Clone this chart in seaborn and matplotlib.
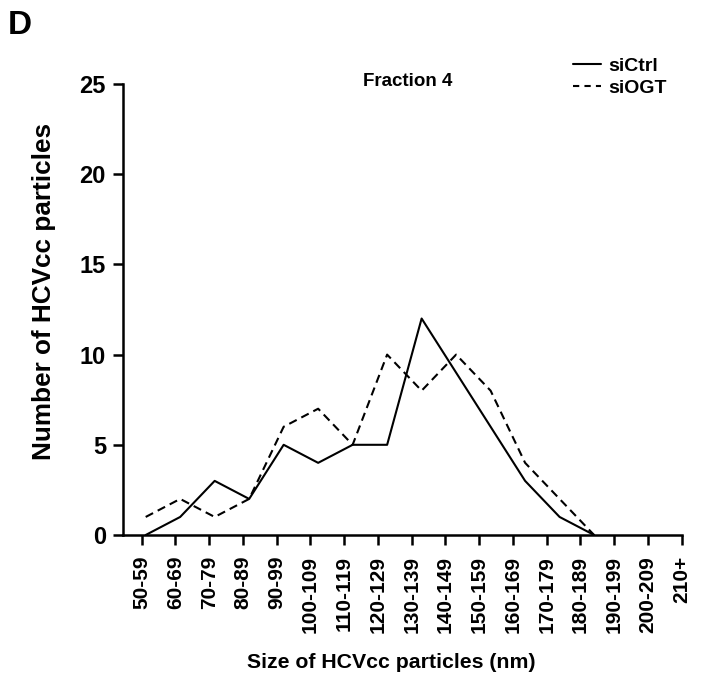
import matplotlib
matplotlib.use("Agg")
import matplotlib.pyplot as plt
import seaborn as sns
import pandas as pd
from matplotlib.lines import Line2D

# Size bins (nm) shown on the x axis
size_bins = ["50-59", "60-69", "70-79", "80-89", "90-99", "100-109", "110-119",
             "120-129", "130-139", "140-149", "150-159", "160-169", "170-179",
             "180-189", "190-199", "200-209", "210+"]

# Particle counts per bin (bins 50-59 .. 180-189)
si_ctrl = [0, 1, 3, 2, 5, 4, 5, 5, 12, 9, 6, 3, 1, 0]
si_ogt = [1, 2, 1, 2, 6, 7, 5, 10, 8, 10, 8, 4, 2, 0]

y_ticks = [0, 5, 10, 15, 20, 25]

sns.set_style("ticks")
plt.rcParams["font.family"] = ["Liberation Sans", "DejaVu Sans"]
plt.rcParams["font.weight"] = "bold"
plt.rcParams["text.color"] = "black"
plt.rcParams["axes.labelcolor"] = "black"
plt.rcParams["xtick.color"] = "black"
plt.rcParams["ytick.color"] = "black"

fig = plt.figure(figsize=(7.04, 6.79), dpi=100)
W, H = 704, 679
left, right, bottom, top = 123.3, 681.7, 535, 84
ax = fig.add_axes([left / W, 1 - bottom / H, (right - left) / W, (bottom - top) / H])

# Category axis with ticks
ax.set_xlim(-0.545, len(size_bins) - 1)
ax.set_xticks(range(len(size_bins)))
ax.set_xticklabels(size_bins, rotation=90, fontsize=15, fontweight="bold",
                   color="black")
ax.set_ylim(0, 25)
ax.set_yticks(y_ticks)
ax.set_yticklabels([str(v) for v in y_ticks], fontsize=17, fontweight="bold",
                   color="black")
ax.tick_params(axis="both", direction="out", length=7, width=1.8, color="black")
ax.tick_params(axis="x", pad=8)
ax.tick_params(axis="y", pad=5.5)
for side in ("top", "right"):
    ax.spines[side].set_visible(False)
for side in ("left", "bottom"):
    ax.spines[side].set_linewidth(1.8)
    ax.spines[side].set_color("black")

ax.set_ylabel("Number of HCVcc particles", fontsize=18.8, fontweight="bold",
              color="black")
ax.yaxis.set_label_coords(-0.1205, 0.541)
ax.set_xlabel("Size of HCVcc particles (nm)", fontsize=15.3, fontweight="bold",
              color="black")
ax.xaxis.set_label_coords(0.479, -0.262)

# Data series drawn on an overlay axis
ax2 = ax.twiny()
ax2.set_xlim(-0.649, 15.54)
ax2.set_ylim(0, 25)
ax2.axis("off")

df = pd.DataFrame({
    "bin": list(range(len(si_ctrl))) * 2,
    "count": si_ctrl + si_ogt,
    "group": ["siCtrl"] * len(si_ctrl) + ["siOGT"] * len(si_ogt),
})
sns.lineplot(data=df, x="bin", y="count", style="group",
             dashes={"siCtrl": "", "siOGT": (4, 2.5)},
             color="black", linewidth=1.5, ax=ax2, legend=False)
for ln in ax2.get_lines():
    ln.set_clip_on(False)

handles = [Line2D([], [], color="black", lw=1.5, ls="-"),
           Line2D([], [], color="black", lw=1.5, dashes=(3, 2.5))]
fig.legend(handles, ["siCtrl", "siOGT"], loc="upper left",
           bbox_to_anchor=(573 / W, 1 - 57 / H), frameon=False,
           prop={"size": 14, "weight": "bold"}, handlelength=1.45,
           handletextpad=0.35, labelspacing=0.25, borderpad=0, borderaxespad=0)

fig.text(408 / W, 1 - 81 / H, "Fraction 4", ha="center", va="center",
         fontsize=13.5, fontweight="bold", color="black")
fig.text(8 / W, 1 - 25 / H, "D", ha="left", va="center",
         fontsize=24, fontweight="bold", color="black")

fig.savefig("out.png", dpi=100)
